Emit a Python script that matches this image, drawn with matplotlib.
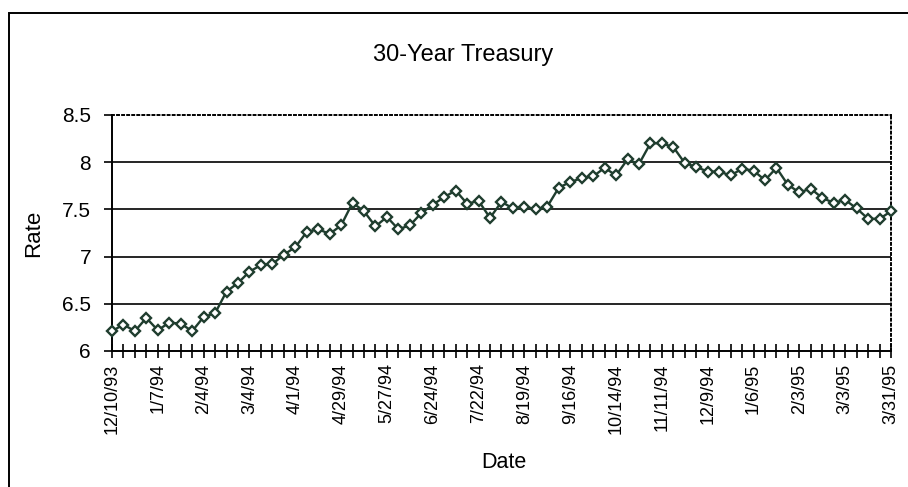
import matplotlib.pyplot as plt
from matplotlib.patches import Rectangle
import numpy as np

# weekly 30-year treasury yields, 12/10/93 .. 3/31/95
rates = [
    6.21, 6.28, 6.21, 6.35, 6.22, 6.30, 6.29, 6.21, 6.36, 6.40,
    6.63, 6.72, 6.84, 6.91, 6.92, 7.02, 7.10, 7.26, 7.29, 7.24,
    7.33, 7.57, 7.48, 7.32, 7.42, 7.29, 7.33, 7.46, 7.55, 7.63,
    7.70, 7.56, 7.59, 7.41, 7.58, 7.51, 7.53, 7.50, 7.53, 7.73,
    7.79, 7.83, 7.85, 7.94, 7.86, 8.03, 7.98, 8.20, 8.20, 8.16,
    7.99, 7.95, 7.90, 7.90, 7.86, 7.93, 7.91, 7.81, 7.94, 7.76,
    7.68, 7.72, 7.62, 7.57, 7.60, 7.51, 7.40, 7.40, 7.48,
]
date_labels = [
    "12/10/93", "1/7/94", "2/4/94", "3/4/94", "4/1/94", "4/29/94",
    "5/27/94", "6/24/94", "7/22/94", "8/19/94", "9/16/94", "10/14/94",
    "11/11/94", "12/9/94", "1/6/95", "2/3/95", "3/3/95", "3/31/95",
]
label_every = 4
y_ticks = [6, 6.5, 7, 7.5, 8, 8.5]
y_tick_labels = ["6", "6.5", "7", "7.5", "8", "8.5"]

plt.rcParams["font.family"] = ["Liberation Sans", "DejaVu Sans"]

fig = plt.figure(figsize=(9.08, 4.87), dpi=100)
ax = fig.add_axes([0.1233, 0.2793, 0.8580, 0.4846])

weeks = np.arange(len(rates))
green = "#1f3d2e"
ax.plot(weeks, rates, color=green, lw=1.7, marker="D", markersize=5.5,
        markerfacecolor="white", markeredgecolor=green, markeredgewidth=1.7,
        clip_on=False, zorder=3)

ax.set_xlim(0, len(rates) - 1)
ax.set_ylim(6, 8.5)

# horizontal gridlines
for y in y_ticks[1:-1]:
    ax.axhline(y, color="black", lw=1.2, zorder=1)

ax.set_yticks(y_ticks)
ax.set_yticklabels(y_tick_labels, fontsize=15)
ax.tick_params(axis="y", direction="out", length=6, width=1.2, pad=9)

ax.set_xticks(weeks, minor=True)
ax.set_xticks(weeks[::label_every])
ax.set_xticklabels(date_labels, rotation=90, fontsize=13)
ax.tick_params(axis="x", which="both", direction="inout", length=10,
               width=1.2, pad=4)

ax.spines["left"].set_linewidth(1.4)
ax.spines["bottom"].set_linewidth(1.4)
for side in ("top", "right"):
    ax.spines[side].set_linestyle((0, (1, 1.6)))
    ax.spines[side].set_linewidth(1.4)

ax.set_ylabel("Rate", fontsize=16)
ax.yaxis.set_label_coords(-0.087, 0.5)
ax.set_xlabel("Date", fontsize=15.5)
ax.xaxis.set_label_coords(0.503, -0.43)

fig.text(0.51, 0.888, "30-Year Treasury", ha="center", va="center",
         fontsize=17)

# outer chart frame
fig.patches.append(Rectangle((9 / 908, -0.05), 1.2, 0.973 - (-0.05),
                             transform=fig.transFigure, fill=False,
                             edgecolor="black", lw=1.4))

fig.savefig("out.png", dpi=100)
